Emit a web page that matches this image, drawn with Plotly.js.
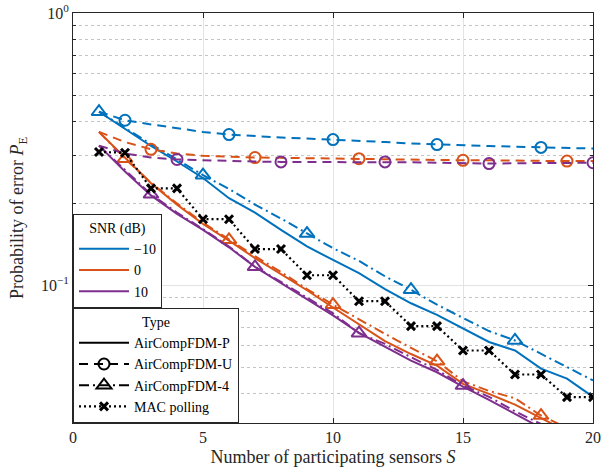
<!DOCTYPE html>
<html>
<head>
<meta charset="utf-8">
<script src="https://cdn.plot.ly/plotly-3.0.1.min.js"></script>
<style>html,body{margin:0;padding:0;background:#fff;}#chart{width:611px;height:470px;}</style>
</head>
<body>
<div id="chart"></div>
<script>
// ---- data ----
const sensors = [1,2,3,4,5,6,7,8,9,10,11,12,13,14,15,16,17,18,19,20];
const snrLabels = ["\u221210", "0", "10"];

// AirCompFDM-P (solid)
const P_snrM10 = [0.434,0.375,0.325,0.285,0.248,0.209,0.185,0.160,0.139,0.124,0.111,0.097,0.086,0.078,0.0695,0.062,0.0577,0.0495,0.0455,0.039];
const P_snr0   = [0.366,0.295,0.237,0.198,0.168,0.146,0.126,0.110,0.096,0.083,0.072,0.0625,0.056,0.0508,0.0435,0.040,0.0365,0.0325,0.029,0.026];
const P_snr10  = [0.326,0.262,0.214,0.183,0.160,0.138,0.117,0.102,0.089,0.0776,0.067,0.0595,0.053,0.048,0.0425,0.038,0.0338,0.030,0.027,0.024];

// AirCompFDM-U (dashed, circles)
const U_snrM10 = [0.434,0.404,0.390,0.377,0.366,0.358,0.353,0.349,0.346,0.343,0.340,0.336,0.332,0.329,0.327,0.325,0.323,0.321,0.319,0.318];
const U_snr0   = [0.366,0.336,0.316,0.305,0.299,0.296,0.2947,0.294,0.293,0.292,0.292,0.291,0.290,0.289,0.288,0.288,0.287,0.287,0.286,0.286];
const U_snr10  = [0.326,0.305,0.295,0.290,0.288,0.286,0.285,0.284,0.284,0.283,0.283,0.284,0.283,0.282,0.281,0.280,0.281,0.281,0.282,0.282];

// AirCompFDM-4 (dash-dot, triangles)
const F4_snrM10 = [0.434,0.378,0.330,0.290,0.254,0.226,0.198,0.176,0.155,0.137,0.123,0.108,0.0964,0.085,0.076,0.068,0.0628,0.056,0.050,0.0448];
const F4_snr0   = [0.366,0.292,0.238,0.200,0.170,0.147,0.128,0.112,0.097,0.085,0.075,0.0664,0.059,0.0527,0.0445,0.041,0.0385,0.0333,0.030,0.027];
const F4_snr10  = [0.326,0.265,0.216,0.185,0.161,0.139,0.117,0.103,0.090,0.079,0.0668,0.061,0.0545,0.049,0.0429,0.039,0.0345,0.031,0.0275,0.0245];

// MAC polling (dotted, x)
const macPolling = [0.309,0.307,0.227,0.227,0.175,0.175,0.136,0.136,0.109,0.109,0.0875,0.0875,0.0709,0.0709,0.0577,0.0577,0.0471,0.0471,0.0389,0.0389];

const typeLabels = ["AirCompFDM-P","AirCompFDM-U","AirCompFDM-4","MAC polling"];

// ---- styling ----
const colors = ["#0072BD", "#D95319", "#7E2F8E"];
const serif = "Liberation Serif";
const LW = 2;
const DASH = "9px,6px";
const DASHDOT = "10px,4px,2px,4px";
const DOT = "2px,3px";

function mask(offset) { // marker every 4th point starting at index offset
  return sensors.map((_, i) => (i >= offset && (i - offset) % 4 === 0) ? 1 : 0);
}

const traces = [];
const Ps = [P_snrM10, P_snr0, P_snr10];
const Us = [U_snrM10, U_snr0, U_snr10];
const F4s = [F4_snrM10, F4_snr0, F4_snr10];

for (let k = 0; k < 3; k++) {
  traces.push({x: sensors, y: Ps[k], mode: "lines", showlegend: false,
    line: {color: colors[k], width: LW}});
  traces.push({x: sensors, y: Us[k], mode: "lines+markers", showlegend: false,
    line: {color: colors[k], width: LW, dash: DASH},
    marker: {symbol: "circle-open", size: 11, color: colors[k], opacity: mask(k + 1),
             line: {width: 2, color: colors[k]}}});
  traces.push({x: sensors, y: F4s[k], mode: "lines+markers", showlegend: false,
    line: {color: colors[k], width: LW, dash: DASHDOT},
    marker: {symbol: "triangle-up-open", size: 13, color: colors[k], opacity: mask(k),
             line: {width: 2, color: colors[k]}}});
}
traces.push({x: sensors, y: macPolling, mode: "lines+markers", showlegend: false,
  line: {color: "#000", width: 2.2, dash: DOT},
  marker: {symbol: "x-thin-open", size: 8, color: "#000", line: {width: 3, color: "#000"}}});

// legend 1: SNR
for (let k = 0; k < 3; k++) {
  traces.push({x: [null], y: [null], mode: "lines", name: snrLabels[k], legend: "legend",
    line: {color: colors[k], width: LW}});
}
// legend 2: Type
traces.push({x: [null], y: [null], mode: "lines", name: typeLabels[0], legend: "legend2",
  line: {color: "#000", width: LW}});
traces.push({x: [null], y: [null], mode: "lines+markers", name: typeLabels[1], legend: "legend2",
  line: {color: "#000", width: LW, dash: DASH},
  marker: {symbol: "circle-open", size: 11, color: "#000", line: {width: 2, color: "#000"}}});
traces.push({x: [null], y: [null], mode: "lines+markers", name: typeLabels[2], legend: "legend2",
  line: {color: "#000", width: LW, dash: DASHDOT},
  marker: {symbol: "triangle-up-open", size: 13, color: "#000", line: {width: 2, color: "#000"}}});
traces.push({x: [null], y: [null], mode: "lines+markers", name: typeLabels[3], legend: "legend2",
  line: {color: "#000", width: 2.2, dash: DOT},
  marker: {symbol: "x-thin-open", size: 8, color: "#000", line: {width: 3, color: "#000"}}});

const axisCol = "#262626";
const legFont = {family: serif, size: 14, color: "#000"};
const layout = {
  width: 611, height: 470,
  margin: {l: 73, r: 18, t: 13, b: 47},
  paper_bgcolor: "#fff", plot_bgcolor: "#fff",
  font: {family: serif, size: 15, color: axisCol},
  xaxis: {
    range: [0, 20], tickvals: [0, 5, 10, 15, 20],
    ticks: "inside", ticklen: 5, tickcolor: axisCol,
    showline: true, linecolor: axisCol, linewidth: 1, mirror: "ticks",
    showgrid: true, gridcolor: "#e3e3e3", zeroline: false,
    tickfont: {family: serif, size: 16, color: axisCol},
    title: {text: "Number of participating sensors <i>S</i>", font: {family: serif, size: 18, color: axisCol}, standoff: 5}
  },
  yaxis: {
    type: "log", range: [-1.505, 0],
    tickvals: [0.1, 1], ticktext: ["10<sup>\u22121</sup>", "10<sup>0</sup>"],
    ticks: "inside", ticklen: 5, tickcolor: axisCol,
    showline: true, linecolor: axisCol, linewidth: 1, mirror: "ticks",
    showgrid: true, gridcolor: "#e3e3e3", zeroline: false,
    tickfont: {family: serif, size: 16, color: axisCol},
    minor: {tickvals: [0.04,0.05,0.06,0.07,0.08,0.09,0.2,0.3,0.4,0.5,0.6,0.7,0.8,0.9],
            ticks: "inside", ticklen: 3, tickcolor: axisCol,
            showgrid: true, gridcolor: "#c4c4c4", griddash: "dot", gridwidth: 1},
    title: {text: "Probability of error <i>P</i><sub>E</sub>", font: {family: serif, size: 18, color: axisCol}, standoff: 12}
  },
  legend: {
    x: 0, xanchor: "left", y: 0.2537, yanchor: "bottom",
    bgcolor: "#fff", bordercolor: axisCol, borderwidth: 1,
    font: legFont, itemwidth: 50,
    title: {text: "SNR (dB)", side: "top center", font: legFont},
    tracegroupgap: 0, itemclick: false
  },
  legend2: {
    x: 0, xanchor: "left", y: 0, yanchor: "bottom",
    bgcolor: "#fff", bordercolor: axisCol, borderwidth: 1,
    font: legFont, itemwidth: 50,
    title: {text: "Type", side: "top center", font: legFont},
    tracegroupgap: 0, itemclick: false
  }
};

Plotly.newPlot("chart", traces, layout, {displayModeBar: false, staticPlot: true}).then(function (gd) {
  // stack the SNR legend directly on top of the Type legend
  const fl = gd._fullLayout;
  if (fl.legend2 && fl.legend2._height) {
    Plotly.relayout(gd, {"legend.y": fl.legend2._height / fl._size.h});
  }
});
</script>
</body>
</html>
